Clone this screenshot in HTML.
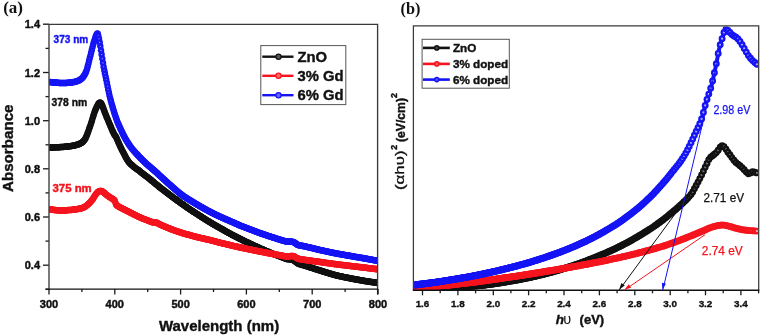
<!DOCTYPE html>
<html><head><meta charset="utf-8"><style>
html,body{margin:0;padding:0;background:#fff;width:761px;height:336px;overflow:hidden;}
svg{display:block;will-change:transform;}
</style></head><body>
<svg width="761" height="336" viewBox="0 0 761 336">
<style>
text{font-family:"Liberation Sans",sans-serif;}
.tk{font-size:11px;font-weight:bold;fill:#111;stroke:#111;stroke-width:0.45px;}
.tkb{font-size:9.9px;font-weight:bold;fill:#111;stroke:#111;stroke-width:0.35px;}
.serif{font-family:"Liberation Serif",serif;font-weight:bold;}
</style>
<defs>
<marker id="mAk" markerUnits="userSpaceOnUse" markerWidth="10" markerHeight="10" refX="5" refY="5" overflow="visible"><circle cx="5" cy="5" r="1.95" fill="#707070" stroke="#111111" stroke-width="2.6"/></marker>
<marker id="mAr" markerUnits="userSpaceOnUse" markerWidth="10" markerHeight="10" refX="5" refY="5" overflow="visible"><circle cx="5" cy="5" r="1.95" fill="#ffb0b0" stroke="#f5141e" stroke-width="2.6"/></marker>
<marker id="mAb" markerUnits="userSpaceOnUse" markerWidth="10" markerHeight="10" refX="5" refY="5" overflow="visible"><circle cx="5" cy="5" r="1.95" fill="#a8a8ff" stroke="#1414f5" stroke-width="2.6"/></marker>
<marker id="mBk" markerUnits="userSpaceOnUse" markerWidth="10" markerHeight="10" refX="5" refY="5" overflow="visible"><circle cx="5" cy="5" r="2.3" fill="#707070" stroke="#111111" stroke-width="2.3"/></marker>
<marker id="mBr" markerUnits="userSpaceOnUse" markerWidth="10" markerHeight="10" refX="5" refY="5" overflow="visible"><circle cx="5" cy="5" r="2.3" fill="#ffb0b0" stroke="#f5141e" stroke-width="2.3"/></marker>
<marker id="mBb" markerUnits="userSpaceOnUse" markerWidth="10" markerHeight="10" refX="5" refY="5" overflow="visible"><circle cx="5" cy="5" r="2.3" fill="#a8a8ff" stroke="#1414f5" stroke-width="2.3"/></marker>
<clipPath id="ca"><rect x="49.5" y="25" width="327.5" height="263.5"/></clipPath>
<clipPath id="cb"><rect x="414.5" y="26.5" width="343.6" height="263"/></clipPath>
</defs>
<rect width="761" height="336" fill="#fff"/>
<!-- Panel A -->
<text x="3.2" y="13.4" class="serif" font-size="17" fill="#111">(a)</text>
<line x1="43.0" y1="24.3" x2="49" y2="24.3" stroke="#1a1a1a" stroke-width="1.3"/>
<text x="40" y="28.3" class="tk" text-anchor="end">1.4</text>
<line x1="45.5" y1="48.4" x2="49" y2="48.4" stroke="#1a1a1a" stroke-width="1.3"/>
<line x1="43.0" y1="72.5" x2="49" y2="72.5" stroke="#1a1a1a" stroke-width="1.3"/>
<text x="40" y="76.5" class="tk" text-anchor="end">1.2</text>
<line x1="45.5" y1="96.6" x2="49" y2="96.6" stroke="#1a1a1a" stroke-width="1.3"/>
<line x1="43.0" y1="120.7" x2="49" y2="120.7" stroke="#1a1a1a" stroke-width="1.3"/>
<text x="40" y="124.7" class="tk" text-anchor="end">1.0</text>
<line x1="45.5" y1="144.8" x2="49" y2="144.8" stroke="#1a1a1a" stroke-width="1.3"/>
<line x1="43.0" y1="168.8" x2="49" y2="168.8" stroke="#1a1a1a" stroke-width="1.3"/>
<text x="40" y="172.8" class="tk" text-anchor="end">0.8</text>
<line x1="45.5" y1="192.9" x2="49" y2="192.9" stroke="#1a1a1a" stroke-width="1.3"/>
<line x1="43.0" y1="217.0" x2="49" y2="217.0" stroke="#1a1a1a" stroke-width="1.3"/>
<text x="40" y="221.0" class="tk" text-anchor="end">0.6</text>
<line x1="45.5" y1="241.1" x2="49" y2="241.1" stroke="#1a1a1a" stroke-width="1.3"/>
<line x1="43.0" y1="265.2" x2="49" y2="265.2" stroke="#1a1a1a" stroke-width="1.3"/>
<text x="40" y="269.2" class="tk" text-anchor="end">0.4</text>
<line x1="45.5" y1="289.3" x2="49" y2="289.3" stroke="#1a1a1a" stroke-width="1.3"/>
<line x1="49.0" y1="289" x2="49.0" y2="294.5" stroke="#1a1a1a" stroke-width="1.3"/>
<text x="49.0" y="307.5" class="tk" text-anchor="middle">300</text>
<line x1="81.9" y1="289" x2="81.9" y2="292.0" stroke="#1a1a1a" stroke-width="1.3"/>
<line x1="114.8" y1="289" x2="114.8" y2="294.5" stroke="#1a1a1a" stroke-width="1.3"/>
<text x="114.8" y="307.5" class="tk" text-anchor="middle">400</text>
<line x1="147.7" y1="289" x2="147.7" y2="292.0" stroke="#1a1a1a" stroke-width="1.3"/>
<line x1="180.6" y1="289" x2="180.6" y2="294.5" stroke="#1a1a1a" stroke-width="1.3"/>
<text x="180.6" y="307.5" class="tk" text-anchor="middle">500</text>
<line x1="213.5" y1="289" x2="213.5" y2="292.0" stroke="#1a1a1a" stroke-width="1.3"/>
<line x1="246.4" y1="289" x2="246.4" y2="294.5" stroke="#1a1a1a" stroke-width="1.3"/>
<text x="246.4" y="307.5" class="tk" text-anchor="middle">600</text>
<line x1="279.3" y1="289" x2="279.3" y2="292.0" stroke="#1a1a1a" stroke-width="1.3"/>
<line x1="312.2" y1="289" x2="312.2" y2="294.5" stroke="#1a1a1a" stroke-width="1.3"/>
<text x="312.2" y="307.5" class="tk" text-anchor="middle">700</text>
<line x1="345.1" y1="289" x2="345.1" y2="292.0" stroke="#1a1a1a" stroke-width="1.3"/>
<line x1="378.0" y1="289" x2="378.0" y2="294.5" stroke="#1a1a1a" stroke-width="1.3"/>
<text x="378.0" y="307.5" class="tk" text-anchor="middle">800</text>
<g clip-path="url(#ca)">
<path d="M49.0,147.5 C51.2,147.4 57.8,147.3 62.0,147.0 C66.2,146.7 70.8,146.2 74.0,145.5 C77.2,144.8 79.2,144.1 81.0,143.0 C82.8,141.9 83.8,140.8 85.0,139.0 C86.2,137.2 86.9,134.9 88.0,132.0 C89.1,129.1 90.3,125.3 91.5,121.8 C92.7,118.3 93.8,113.9 94.9,111.0 C96.0,108.1 97.2,105.9 98.0,104.5 C98.8,103.1 99.1,102.6 99.7,102.5 C100.3,102.4 101.0,103.2 101.5,104.0 C102.0,104.8 102.4,106.0 103.0,107.5 C103.6,109.0 104.1,110.7 105.0,113.0 C105.9,115.3 107.3,118.7 108.5,121.5 C109.7,124.3 111.1,127.8 112.1,130.0 C113.1,132.2 113.8,133.8 114.5,135.0 C115.2,136.2 115.5,136.1 116.0,137.0 C116.5,137.9 116.7,138.8 117.5,140.5 C118.3,142.2 119.6,145.2 120.7,147.5 C121.8,149.8 123.0,152.0 124.0,154.0 C125.0,156.0 125.8,157.8 127.0,159.5 C128.2,161.2 128.8,162.5 131.0,164.5 C133.2,166.5 136.8,169.0 140.0,171.5 C143.2,174.0 146.7,176.6 150.0,179.3 C153.3,182.0 156.7,184.8 160.0,187.5 C163.3,190.2 166.7,192.7 170.0,195.2 C173.3,197.7 176.7,200.1 180.0,202.5 C183.3,204.9 186.7,207.2 190.0,209.5 C193.3,211.8 196.7,213.9 200.0,216.0 C203.3,218.1 206.7,220.3 210.0,222.3 C213.3,224.3 216.7,226.2 220.0,228.1 C223.3,230.0 226.7,231.9 230.0,233.7 C233.3,235.5 236.7,237.2 240.0,238.9 C243.3,240.6 246.7,242.1 250.0,243.7 C253.3,245.3 256.7,246.8 260.0,248.3 C263.3,249.8 266.7,251.2 270.0,252.6 C273.3,254.0 277.2,255.4 280.0,256.5 C282.8,257.6 285.2,258.6 287.0,259.1 C288.8,259.6 289.8,259.1 291.0,259.4 C292.2,259.6 292.8,259.9 294.0,260.6 C295.2,261.3 296.2,262.6 298.0,263.5 C299.8,264.4 301.3,264.5 305.0,265.7 C308.7,266.9 315.0,268.9 320.0,270.5 C325.0,272.1 330.0,273.7 335.0,275.0 C340.0,276.3 345.0,277.3 350.0,278.3 C355.0,279.3 360.3,280.2 365.0,281.0 C369.7,281.8 375.8,282.7 378.0,283.0" fill="none" stroke="#111111" stroke-width="4.0" stroke-linejoin="round" stroke-linecap="round"/>
<polyline points="49.0,147.5 49.7,147.5 50.3,147.5 51.0,147.4 51.6,147.4 52.3,147.4 52.9,147.4 53.6,147.4 54.3,147.4 54.9,147.3 55.6,147.3 56.2,147.3 56.9,147.3 57.6,147.2 58.2,147.2 58.9,147.2 59.5,147.2 60.2,147.1 60.8,147.1 61.5,147.0 62.2,147.0 62.8,146.9 63.5,146.9 64.1,146.8 64.8,146.8 65.5,146.7 66.1,146.6 66.8,146.6 67.4,146.5 68.1,146.4 68.7,146.3 69.4,146.2 70.1,146.2 70.7,146.1 71.4,146.0 72.0,145.9 72.7,145.8 73.3,145.6 74.0,145.5 74.7,145.4 75.3,145.2 76.0,145.0 76.6,144.8 77.3,144.6 78.0,144.4 78.6,144.2 79.3,143.9 79.9,143.6 80.6,143.2 81.2,142.9 81.9,142.4 82.6,141.9 83.2,141.3 83.9,140.6 84.5,139.7 85.2,138.7 85.8,137.5 86.5,135.9 87.2,134.2 87.8,132.5 88.5,130.7 89.1,128.8 89.8,126.9 90.5,125.0 91.1,123.0 91.8,121.0 92.4,118.8 93.1,116.6 93.7,114.5 94.4,112.4 95.1,110.6 95.7,109.0 96.4,107.6 97.0,106.3 97.7,105.0 98.3,103.9 99.0,102.9 99.7,102.5 100.3,102.7 101.0,103.3 101.6,104.2 102.3,105.7 103.0,107.4 103.6,109.2 104.3,111.1 104.9,112.8 105.6,114.5 106.2,116.1 106.9,117.7 107.6,119.3 108.2,120.8 108.9,122.4 109.5,124.0 110.2,125.6 110.9,127.1 111.5,128.7 112.2,130.2 112.8,131.6 113.5,133.0 114.1,134.3 114.8,135.5 115.5,136.3 116.1,137.2 116.8,138.8 117.4,140.3 118.1,141.8 118.7,143.3 119.4,144.7 120.1,146.2 120.7,147.5 121.4,148.9 122.0,150.2 122.7,151.5 123.4,152.8 124.0,154.0 124.7,155.3 125.3,156.6 126.0,157.8 126.6,158.9 127.3,160.0 128.0,161.0 128.6,161.9 129.3,162.7 129.9,163.5 130.6,164.1 131.2,164.7 131.9,165.3 132.6,165.8 133.2,166.4 133.9,166.9 134.5,167.4 135.2,167.9 135.9,168.4 136.5,168.9 137.2,169.4 137.8,169.8 138.5,170.3 139.1,170.8 139.8,171.3 140.5,171.9 141.1,172.4 141.8,172.9 142.4,173.4 143.1,173.9 143.8,174.4 144.4,174.9 145.1,175.4 145.7,175.9 146.4,176.4 147.0,177.0 147.7,177.5 148.4,178.0 149.0,178.5 149.7,179.0 150.3,179.6 151.0,180.1 151.6,180.6 152.3,181.2 153.0,181.7 153.6,182.3 154.3,182.8 154.9,183.4 155.6,183.9 156.3,184.4 156.9,185.0 157.6,185.5 158.2,186.1 158.9,186.6 159.5,187.1 160.2,187.7 160.9,188.2 161.5,188.7 162.2,189.2 162.8,189.7 163.5,190.2 164.2,190.8 164.8,191.3 165.5,191.8 166.1,192.3 166.8,192.8 167.4,193.3 168.1,193.8 168.8,194.3 169.4,194.8 170.1,195.3 170.7,195.7 171.4,196.2 172.0,196.7 172.7,197.2 173.4,197.7 174.0,198.2 174.7,198.7 175.3,199.1 176.0,199.6 176.7,200.1 177.3,200.6 178.0,201.0 178.6,201.5 179.3,202.0 179.9,202.5 180.6,202.9 181.3,203.4 181.9,203.9 182.6,204.3 183.2,204.8 183.9,205.3 184.5,205.7 185.2,206.2 185.9,206.7 186.5,207.1 187.2,207.6 187.8,208.0 188.5,208.5 189.2,208.9 189.8,209.4 190.5,209.8 191.1,210.3 191.8,210.7 192.4,211.1 193.1,211.6 193.8,212.0 194.4,212.4 195.1,212.8 195.7,213.3 196.4,213.7 197.1,214.1 197.7,214.5 198.4,215.0 199.0,215.4 199.7,215.8 200.3,216.2 201.0,216.6 201.7,217.1 202.3,217.5 203.0,217.9 203.6,218.3 204.3,218.7 204.9,219.2 205.6,219.6 206.3,220.0 206.9,220.4 207.6,220.8 208.2,221.2 208.9,221.6 209.6,222.0 210.2,222.4 210.9,222.8 211.5,223.2 212.2,223.6 212.8,224.0 213.5,224.4 214.2,224.8 214.8,225.1 215.5,225.5 216.1,225.9 216.8,226.3 217.4,226.6 218.1,227.0 218.8,227.4 219.4,227.8 220.1,228.1 220.7,228.5 221.4,228.9 222.1,229.3 222.7,229.6 223.4,230.0 224.0,230.4 224.7,230.8 225.3,231.1 226.0,231.5 226.7,231.9 227.3,232.2 228.0,232.6 228.6,233.0 229.3,233.3 230.0,233.7 230.6,234.0 231.3,234.4 231.9,234.7 232.6,235.1 233.2,235.4 233.9,235.8 234.6,236.1 235.2,236.5 235.9,236.8 236.5,237.1 237.2,237.5 237.8,237.8 238.5,238.1 239.2,238.5 239.8,238.8 240.5,239.1 241.1,239.5 241.8,239.8 242.5,240.1 243.1,240.4 243.8,240.7 244.4,241.1 245.1,241.4 245.7,241.7 246.4,242.0 247.1,242.3 247.7,242.6 248.4,242.9 249.0,243.2 249.7,243.6 250.3,243.9 251.0,244.2 251.7,244.5 252.3,244.8 253.0,245.1 253.6,245.4 254.3,245.7 255.0,246.0 255.6,246.3 256.3,246.6 256.9,246.9 257.6,247.2 258.2,247.5 258.9,247.8 259.6,248.1 260.2,248.4 260.9,248.7 261.5,249.0 262.2,249.3 262.9,249.6 263.5,249.8 264.2,250.1 264.8,250.4 265.5,250.7 266.1,251.0 266.8,251.3 267.5,251.5 268.1,251.8 268.8,252.1 269.4,252.4 270.1,252.6 270.7,252.9 271.4,253.2 272.1,253.4 272.7,253.7 273.4,254.0 274.0,254.2 274.7,254.5 275.4,254.7 276.0,255.0 276.7,255.2 277.3,255.5 278.0,255.7 278.6,256.0 279.3,256.2 280.0,256.5 280.6,256.7 281.3,257.0 281.9,257.3 282.6,257.5 283.2,257.8 283.9,258.0 284.6,258.3 285.2,258.5 285.9,258.8 286.5,259.0 287.2,259.1 287.9,259.3 288.5,259.3 289.2,259.3 289.8,259.3 290.5,259.3 291.1,259.4 291.8,259.6 292.5,259.8 293.1,260.1 293.8,260.5 294.4,260.9 295.1,261.4 295.8,262.0 296.4,262.5 297.1,263.0 297.7,263.4 298.4,263.7 299.0,263.9 299.7,264.2 300.4,264.4 301.0,264.5 301.7,264.7 302.3,264.9 303.0,265.1 303.6,265.3 304.3,265.5 305.0,265.7 305.6,265.9 306.3,266.1 306.9,266.3 307.6,266.5 308.3,266.7 308.9,267.0 309.6,267.2 310.2,267.4 310.9,267.6 311.5,267.8 312.2,268.0 312.9,268.2 313.5,268.4 314.2,268.7 314.8,268.9 315.5,269.1 316.1,269.3 316.8,269.5 317.5,269.7 318.1,269.9 318.8,270.1 319.4,270.3 320.1,270.5 320.8,270.7 321.4,270.9 322.1,271.1 322.7,271.4 323.4,271.6 324.0,271.8 324.7,272.0 325.4,272.2 326.0,272.4 326.7,272.6 327.3,272.8 328.0,273.0 328.7,273.2 329.3,273.4 330.0,273.6 330.6,273.8 331.3,274.0 331.9,274.2 332.6,274.4 333.3,274.5 333.9,274.7 334.6,274.9 335.2,275.1 335.9,275.2 336.5,275.4 337.2,275.6 337.9,275.7 338.5,275.9 339.2,276.0 339.8,276.2 340.5,276.3 341.2,276.5 341.8,276.6 342.5,276.8 343.1,276.9 343.8,277.0 344.4,277.2 345.1,277.3 345.8,277.4 346.4,277.6 347.1,277.7 347.7,277.8 348.4,278.0 349.0,278.1 349.7,278.2 350.4,278.4 351.0,278.5 351.7,278.6 352.3,278.8 353.0,278.9 353.7,279.0 354.3,279.1 355.0,279.3 355.6,279.4 356.3,279.5 356.9,279.6 357.6,279.7 358.3,279.8 358.9,280.0 359.6,280.1 360.2,280.2 360.9,280.3 361.6,280.4 362.2,280.5 362.9,280.6 363.5,280.8 364.2,280.9 364.8,281.0 365.5,281.1 366.2,281.2 366.8,281.3 367.5,281.4 368.1,281.5 368.8,281.6 369.4,281.7 370.1,281.8 370.8,281.9 371.4,282.0 372.1,282.1 372.7,282.2 373.4,282.3 374.1,282.4 374.7,282.5 375.4,282.6 376.0,282.7 376.7,282.8 377.3,282.9 378.0,283.0" fill="none" stroke="none" marker-start="url(#mAk)" marker-mid="url(#mAk)" marker-end="url(#mAk)"/>
<path d="M49.0,209.3 C50.8,209.5 56.2,210.3 60.0,210.4 C63.8,210.5 68.5,210.2 72.0,209.8 C75.5,209.4 79.1,208.7 81.3,208.2 C83.5,207.7 83.7,207.4 85.0,206.6 C86.3,205.8 87.8,204.5 89.0,203.3 C90.2,202.1 91.4,200.8 92.5,199.3 C93.6,197.9 94.6,195.8 95.5,194.6 C96.4,193.3 97.2,192.4 98.0,191.8 C98.8,191.2 99.5,191.0 100.3,190.9 C101.0,190.8 101.4,190.8 102.5,191.5 C103.6,192.2 105.5,194.2 106.9,195.3 C108.3,196.4 109.7,197.1 111.0,198.0 C112.3,198.9 113.8,199.7 114.5,200.5 C115.2,201.3 115.1,202.2 115.5,203.0 C115.9,203.8 115.5,204.5 117.0,205.6 C118.5,206.7 121.0,207.8 124.8,209.8 C128.6,211.8 136.1,215.6 140.0,217.4 C143.9,219.2 145.9,219.8 148.0,220.6 C150.1,221.4 151.1,222.0 152.5,222.3 C153.9,222.7 155.2,222.3 156.5,222.7 C157.8,223.1 157.8,223.5 160.0,224.5 C162.2,225.5 166.7,227.5 170.0,228.8 C173.3,230.1 176.7,231.2 180.0,232.3 C183.3,233.4 186.7,234.3 190.0,235.2 C193.3,236.1 196.7,237.0 200.0,237.8 C203.3,238.6 206.7,239.3 210.0,240.1 C213.3,240.9 216.7,241.9 220.0,242.7 C223.3,243.5 226.7,244.3 230.0,245.1 C233.3,245.9 236.7,246.7 240.0,247.4 C243.3,248.1 246.7,248.8 250.0,249.5 C253.3,250.2 256.7,250.8 260.0,251.5 C263.3,252.2 266.7,252.9 270.0,253.5 C273.3,254.1 277.2,254.8 280.0,255.3 C282.8,255.8 285.2,256.5 287.0,256.6 C288.8,256.7 289.8,256.0 291.0,256.0 C292.2,256.0 292.8,255.9 294.0,256.4 C295.2,256.8 296.2,258.1 298.0,258.7 C299.8,259.3 301.3,259.3 305.0,259.9 C308.7,260.4 315.0,261.3 320.0,262.0 C325.0,262.7 330.0,263.5 335.0,264.1 C340.0,264.8 345.0,265.3 350.0,265.9 C355.0,266.5 360.3,267.1 365.0,267.7 C369.7,268.3 375.8,269.0 378.0,269.3" fill="none" stroke="#f5141e" stroke-width="4.0" stroke-linejoin="round" stroke-linecap="round"/>
<polyline points="49.0,209.3 49.7,209.4 50.3,209.5 51.0,209.5 51.6,209.6 52.3,209.7 52.9,209.8 53.6,209.9 54.3,209.9 54.9,210.0 55.6,210.1 56.2,210.2 56.9,210.2 57.6,210.3 58.2,210.3 58.9,210.4 59.5,210.4 60.2,210.4 60.8,210.4 61.5,210.4 62.2,210.4 62.8,210.4 63.5,210.4 64.1,210.4 64.8,210.3 65.5,210.3 66.1,210.3 66.8,210.2 67.4,210.2 68.1,210.1 68.7,210.1 69.4,210.0 70.1,210.0 70.7,209.9 71.4,209.9 72.0,209.8 72.7,209.7 73.3,209.6 74.0,209.6 74.7,209.5 75.3,209.4 76.0,209.3 76.6,209.2 77.3,209.0 78.0,208.9 78.6,208.8 79.3,208.7 79.9,208.5 80.6,208.4 81.2,208.2 81.9,208.0 82.6,207.9 83.2,207.6 83.9,207.3 84.5,206.9 85.2,206.5 85.8,206.0 86.5,205.5 87.2,205.0 87.8,204.4 88.5,203.8 89.1,203.2 89.8,202.5 90.5,201.8 91.1,201.0 91.8,200.2 92.4,199.4 93.1,198.5 93.7,197.4 94.4,196.3 95.1,195.2 95.7,194.3 96.4,193.5 97.0,192.7 97.7,192.1 98.3,191.6 99.0,191.2 99.7,191.0 100.3,190.9 101.0,190.9 101.6,191.0 102.3,191.4 103.0,191.8 103.6,192.4 104.3,193.0 104.9,193.6 105.6,194.2 106.2,194.8 106.9,195.3 107.6,195.8 108.2,196.2 108.9,196.7 109.5,197.1 110.2,197.5 110.9,197.9 111.5,198.3 112.2,198.8 112.8,199.2 113.5,199.6 114.1,200.1 114.8,200.9 115.5,202.9 116.1,204.8 116.8,205.4 117.4,205.9 118.1,206.3 118.7,206.7 119.4,207.1 120.1,207.4 120.7,207.7 121.4,208.1 122.0,208.4 122.7,208.7 123.4,209.1 124.0,209.4 124.7,209.7 125.3,210.1 126.0,210.4 126.6,210.7 127.3,211.1 128.0,211.4 128.6,211.8 129.3,212.1 129.9,212.4 130.6,212.8 131.2,213.1 131.9,213.4 132.6,213.8 133.2,214.1 133.9,214.4 134.5,214.7 135.2,215.1 135.9,215.4 136.5,215.7 137.2,216.0 137.8,216.4 138.5,216.7 139.1,217.0 139.8,217.3 140.5,217.6 141.1,217.9 141.8,218.2 142.4,218.5 143.1,218.8 143.8,219.0 144.4,219.3 145.1,219.5 145.7,219.8 146.4,220.0 147.0,220.2 147.7,220.5 148.4,220.7 149.0,221.0 149.7,221.3 150.3,221.6 151.0,221.8 151.6,222.1 152.3,222.3 153.0,222.4 153.6,222.5 154.3,222.5 154.9,222.5 155.6,222.5 156.3,222.6 156.9,222.8 157.6,223.2 158.2,223.6 158.9,224.0 159.5,224.3 160.2,224.6 160.9,224.9 161.5,225.2 162.2,225.5 162.8,225.8 163.5,226.1 164.2,226.3 164.8,226.6 165.5,226.9 166.1,227.2 166.8,227.5 167.4,227.8 168.1,228.0 168.8,228.3 169.4,228.6 170.1,228.8 170.7,229.1 171.4,229.3 172.0,229.6 172.7,229.8 173.4,230.1 174.0,230.3 174.7,230.5 175.3,230.8 176.0,231.0 176.7,231.2 177.3,231.4 178.0,231.6 178.6,231.9 179.3,232.1 179.9,232.3 180.6,232.5 181.3,232.7 181.9,232.9 182.6,233.1 183.2,233.3 183.9,233.5 184.5,233.7 185.2,233.9 185.9,234.1 186.5,234.2 187.2,234.4 187.8,234.6 188.5,234.8 189.2,235.0 189.8,235.1 190.5,235.3 191.1,235.5 191.8,235.7 192.4,235.9 193.1,236.0 193.8,236.2 194.4,236.4 195.1,236.6 195.7,236.7 196.4,236.9 197.1,237.1 197.7,237.2 198.4,237.4 199.0,237.6 199.7,237.7 200.3,237.9 201.0,238.0 201.7,238.2 202.3,238.3 203.0,238.5 203.6,238.6 204.3,238.8 204.9,238.9 205.6,239.1 206.3,239.2 206.9,239.4 207.6,239.5 208.2,239.7 208.9,239.8 209.6,240.0 210.2,240.2 210.9,240.3 211.5,240.5 212.2,240.7 212.8,240.8 213.5,241.0 214.2,241.2 214.8,241.3 215.5,241.5 216.1,241.7 216.8,241.9 217.4,242.0 218.1,242.2 218.8,242.4 219.4,242.6 220.1,242.7 220.7,242.9 221.4,243.0 222.1,243.2 222.7,243.4 223.4,243.5 224.0,243.7 224.7,243.8 225.3,244.0 226.0,244.2 226.7,244.3 227.3,244.5 228.0,244.6 228.6,244.8 229.3,244.9 230.0,245.1 230.6,245.2 231.3,245.4 231.9,245.6 232.6,245.7 233.2,245.9 233.9,246.0 234.6,246.2 235.2,246.3 235.9,246.5 236.5,246.6 237.2,246.8 237.8,246.9 238.5,247.1 239.2,247.2 239.8,247.4 240.5,247.5 241.1,247.6 241.8,247.8 242.5,247.9 243.1,248.1 243.8,248.2 244.4,248.3 245.1,248.5 245.7,248.6 246.4,248.8 247.1,248.9 247.7,249.0 248.4,249.2 249.0,249.3 249.7,249.4 250.3,249.6 251.0,249.7 251.7,249.8 252.3,250.0 253.0,250.1 253.6,250.2 254.3,250.4 255.0,250.5 255.6,250.6 256.3,250.8 256.9,250.9 257.6,251.0 258.2,251.2 258.9,251.3 259.6,251.4 260.2,251.5 260.9,251.7 261.5,251.8 262.2,251.9 262.9,252.1 263.5,252.2 264.2,252.3 264.8,252.5 265.5,252.6 266.1,252.7 266.8,252.9 267.5,253.0 268.1,253.1 268.8,253.3 269.4,253.4 270.1,253.5 270.7,253.6 271.4,253.8 272.1,253.9 272.7,254.0 273.4,254.1 274.0,254.2 274.7,254.4 275.4,254.5 276.0,254.6 276.7,254.7 277.3,254.8 278.0,254.9 278.6,255.1 279.3,255.2 280.0,255.3 280.6,255.4 281.3,255.5 281.9,255.7 282.6,255.8 283.2,256.0 283.9,256.1 284.6,256.2 285.2,256.4 285.9,256.5 286.5,256.6 287.2,256.6 287.9,256.6 288.5,256.5 289.2,256.4 289.8,256.2 290.5,256.1 291.1,256.0 291.8,256.0 292.5,256.0 293.1,256.1 293.8,256.3 294.4,256.6 295.1,257.0 295.8,257.5 296.4,257.9 297.1,258.3 297.7,258.6 298.4,258.8 299.0,259.0 299.7,259.1 300.4,259.2 301.0,259.3 301.7,259.4 302.3,259.5 303.0,259.6 303.6,259.7 304.3,259.8 305.0,259.9 305.6,260.0 306.3,260.1 306.9,260.2 307.6,260.3 308.3,260.4 308.9,260.5 309.6,260.6 310.2,260.6 310.9,260.7 311.5,260.8 312.2,260.9 312.9,261.0 313.5,261.1 314.2,261.2 314.8,261.3 315.5,261.4 316.1,261.5 316.8,261.6 317.5,261.6 318.1,261.7 318.8,261.8 319.4,261.9 320.1,262.0 320.8,262.1 321.4,262.2 322.1,262.3 322.7,262.4 323.4,262.5 324.0,262.6 324.7,262.7 325.4,262.8 326.0,262.9 326.7,263.0 327.3,263.0 328.0,263.1 328.7,263.2 329.3,263.3 330.0,263.4 330.6,263.5 331.3,263.6 331.9,263.7 332.6,263.8 333.3,263.9 333.9,264.0 334.6,264.0 335.2,264.1 335.9,264.2 336.5,264.3 337.2,264.4 337.9,264.5 338.5,264.5 339.2,264.6 339.8,264.7 340.5,264.8 341.2,264.9 341.8,264.9 342.5,265.0 343.1,265.1 343.8,265.2 344.4,265.2 345.1,265.3 345.8,265.4 346.4,265.5 347.1,265.6 347.7,265.6 348.4,265.7 349.0,265.8 349.7,265.9 350.4,265.9 351.0,266.0 351.7,266.1 352.3,266.2 353.0,266.3 353.7,266.3 354.3,266.4 355.0,266.5 355.6,266.6 356.3,266.7 356.9,266.7 357.6,266.8 358.3,266.9 358.9,267.0 359.6,267.0 360.2,267.1 360.9,267.2 361.6,267.3 362.2,267.4 362.9,267.4 363.5,267.5 364.2,267.6 364.8,267.7 365.5,267.8 366.2,267.8 366.8,267.9 367.5,268.0 368.1,268.1 368.8,268.2 369.4,268.2 370.1,268.3 370.8,268.4 371.4,268.5 372.1,268.6 372.7,268.6 373.4,268.7 374.1,268.8 374.7,268.9 375.4,269.0 376.0,269.1 376.7,269.1 377.3,269.2 378.0,269.3" fill="none" stroke="none" marker-start="url(#mAr)" marker-mid="url(#mAr)" marker-end="url(#mAr)"/>
<path d="M49.0,82.0 C51.2,82.2 57.8,83.0 62.0,83.0 C66.2,83.0 70.8,82.7 74.0,82.0 C77.2,81.3 79.1,80.5 81.0,79.0 C82.9,77.5 84.4,75.0 85.5,73.0 C86.6,71.0 86.8,69.7 87.5,67.0 C88.2,64.3 89.1,60.7 90.0,57.0 C90.9,53.3 92.1,48.3 93.0,45.0 C93.9,41.7 94.9,38.8 95.5,37.0 C96.1,35.2 96.3,34.8 96.6,34.2 C96.9,33.6 97.1,33.4 97.3,33.4 C97.5,33.4 97.7,33.4 98.0,34.5 C98.3,35.6 98.8,37.8 99.2,40.0 C99.6,42.2 100.0,44.7 100.6,48.0 C101.1,51.3 101.9,56.5 102.5,60.0 C103.1,63.5 103.4,65.9 104.0,69.0 C104.6,72.1 105.0,73.7 106.0,78.6 C107.0,83.5 108.5,91.9 110.2,98.5 C111.9,105.1 114.2,112.8 116.0,118.0 C117.8,123.2 119.4,126.5 121.0,130.0 C122.6,133.5 123.8,136.1 125.5,139.0 C127.2,141.9 128.9,144.8 131.0,147.5 C133.1,150.2 135.5,152.8 138.0,155.5 C140.5,158.2 143.2,160.9 146.0,163.5 C148.8,166.1 151.8,168.5 155.0,171.3 C158.2,174.1 160.8,176.8 165.0,180.5 C169.2,184.2 175.8,190.3 180.0,193.6 C184.2,196.9 186.7,198.2 190.0,200.3 C193.3,202.4 196.7,204.4 200.0,206.3 C203.3,208.2 206.7,210.1 210.0,211.8 C213.3,213.5 216.7,215.1 220.0,216.7 C223.3,218.2 226.7,219.6 230.0,221.1 C233.3,222.6 236.7,224.1 240.0,225.5 C243.3,226.9 246.7,228.1 250.0,229.4 C253.3,230.7 256.7,231.9 260.0,233.1 C263.3,234.3 266.7,235.4 270.0,236.5 C273.3,237.6 277.2,238.8 280.0,239.7 C282.8,240.5 285.2,241.3 287.0,241.6 C288.8,241.9 289.8,241.5 291.0,241.6 C292.2,241.7 292.8,241.7 294.0,242.3 C295.2,242.9 296.2,244.3 298.0,245.0 C299.8,245.7 301.3,245.6 305.0,246.4 C308.7,247.2 315.0,248.9 320.0,250.0 C325.0,251.1 330.0,252.2 335.0,253.2 C340.0,254.2 345.0,255.0 350.0,255.9 C355.0,256.8 360.3,257.7 365.0,258.5 C369.7,259.3 375.8,260.5 378.0,260.9" fill="none" stroke="#1414f5" stroke-width="4.0" stroke-linejoin="round" stroke-linecap="round"/>
<polyline points="49.0,82.0 49.7,82.1 50.3,82.1 51.0,82.2 51.6,82.3 52.3,82.3 52.9,82.4 53.6,82.5 54.3,82.5 54.9,82.6 55.6,82.6 56.2,82.7 56.9,82.7 57.6,82.8 58.2,82.8 58.9,82.9 59.5,82.9 60.2,83.0 60.8,83.0 61.5,83.0 62.2,83.0 62.8,83.0 63.5,83.0 64.1,83.0 64.8,83.0 65.5,82.9 66.1,82.9 66.8,82.9 67.4,82.8 68.1,82.8 68.7,82.7 69.4,82.7 70.1,82.6 70.7,82.5 71.4,82.4 72.0,82.3 72.7,82.2 73.3,82.1 74.0,82.0 74.7,81.9 75.3,81.7 76.0,81.5 76.6,81.3 77.3,81.1 78.0,80.8 78.6,80.5 79.3,80.2 79.9,79.8 80.6,79.3 81.2,78.8 81.9,78.2 82.6,77.5 83.2,76.7 83.9,75.7 84.5,74.7 85.2,73.6 85.8,72.3 86.5,70.6 87.2,68.2 87.8,65.8 88.5,63.2 89.1,60.5 89.8,57.8 90.5,55.2 91.1,52.5 91.8,49.8 92.4,47.2 93.1,44.7 93.7,42.4 94.4,40.3 95.1,38.3 95.7,36.4 96.4,34.7 97.0,33.5 97.7,33.7 98.3,35.9 99.0,39.0 99.7,42.5 100.3,46.3 101.0,50.4 101.6,54.6 102.3,58.7 103.0,62.9 103.6,66.9 104.3,70.4 104.9,73.6 105.6,76.7 106.2,79.8 106.9,83.1 107.6,86.4 108.2,89.7 108.9,92.8 109.5,95.8 110.2,98.5 110.9,101.0 111.5,103.4 112.2,105.7 112.8,108.0 113.5,110.2 114.1,112.3 114.8,114.4 115.5,116.4 116.1,118.3 116.8,120.2 117.4,121.9 118.1,123.5 118.7,125.0 119.4,126.5 120.1,128.0 120.7,129.4 121.4,130.8 122.0,132.3 122.7,133.6 123.4,135.0 124.0,136.3 124.7,137.5 125.3,138.7 126.0,139.8 126.6,141.0 127.3,142.0 128.0,143.1 128.6,144.1 129.3,145.1 129.9,146.0 130.6,147.0 131.2,147.8 131.9,148.7 132.6,149.5 133.2,150.2 133.9,151.0 134.5,151.8 135.2,152.5 135.9,153.2 136.5,153.9 137.2,154.6 137.8,155.3 138.5,156.0 139.1,156.7 139.8,157.4 140.5,158.1 141.1,158.8 141.8,159.4 142.4,160.1 143.1,160.7 143.8,161.4 144.4,162.0 145.1,162.6 145.7,163.2 146.4,163.9 147.0,164.4 147.7,165.0 148.4,165.6 149.0,166.2 149.7,166.7 150.3,167.3 151.0,167.8 151.6,168.4 152.3,169.0 153.0,169.5 153.6,170.1 154.3,170.7 154.9,171.2 155.6,171.8 156.3,172.4 156.9,173.0 157.6,173.6 158.2,174.3 158.9,174.9 159.5,175.5 160.2,176.1 160.9,176.7 161.5,177.3 162.2,177.9 162.8,178.5 163.5,179.1 164.2,179.7 164.8,180.3 165.5,180.9 166.1,181.5 166.8,182.1 167.4,182.7 168.1,183.3 168.8,183.9 169.4,184.5 170.1,185.0 170.7,185.6 171.4,186.2 172.0,186.8 172.7,187.4 173.4,188.0 174.0,188.5 174.7,189.1 175.3,189.7 176.0,190.3 176.7,190.8 177.3,191.4 178.0,191.9 178.6,192.5 179.3,193.0 179.9,193.6 180.6,194.1 181.3,194.6 181.9,195.1 182.6,195.5 183.2,196.0 183.9,196.5 184.5,196.9 185.2,197.3 185.9,197.7 186.5,198.2 187.2,198.6 187.8,199.0 188.5,199.4 189.2,199.8 189.8,200.2 190.5,200.6 191.1,201.0 191.8,201.4 192.4,201.8 193.1,202.2 193.8,202.6 194.4,203.0 195.1,203.4 195.7,203.8 196.4,204.2 197.1,204.6 197.7,205.0 198.4,205.4 199.0,205.7 199.7,206.1 200.3,206.5 201.0,206.9 201.7,207.2 202.3,207.6 203.0,208.0 203.6,208.4 204.3,208.7 204.9,209.1 205.6,209.5 206.3,209.8 206.9,210.2 207.6,210.5 208.2,210.9 208.9,211.2 209.6,211.6 210.2,211.9 210.9,212.2 211.5,212.6 212.2,212.9 212.8,213.3 213.5,213.6 214.2,213.9 214.8,214.2 215.5,214.5 216.1,214.9 216.8,215.2 217.4,215.5 218.1,215.8 218.8,216.1 219.4,216.4 220.1,216.7 220.7,217.0 221.4,217.3 222.1,217.6 222.7,217.9 223.4,218.2 224.0,218.5 224.7,218.8 225.3,219.1 226.0,219.4 226.7,219.6 227.3,219.9 228.0,220.2 228.6,220.5 229.3,220.8 230.0,221.1 230.6,221.4 231.3,221.7 231.9,222.0 232.6,222.2 233.2,222.5 233.9,222.8 234.6,223.1 235.2,223.4 235.9,223.7 236.5,224.0 237.2,224.3 237.8,224.6 238.5,224.9 239.2,225.1 239.8,225.4 240.5,225.7 241.1,226.0 241.8,226.2 242.5,226.5 243.1,226.8 243.8,227.0 244.4,227.3 245.1,227.5 245.7,227.8 246.4,228.0 247.1,228.3 247.7,228.5 248.4,228.8 249.0,229.0 249.7,229.3 250.3,229.5 251.0,229.8 251.7,230.0 252.3,230.3 253.0,230.5 253.6,230.8 254.3,231.0 255.0,231.3 255.6,231.5 256.3,231.8 256.9,232.0 257.6,232.2 258.2,232.5 258.9,232.7 259.6,232.9 260.2,233.2 260.9,233.4 261.5,233.6 262.2,233.9 262.9,234.1 263.5,234.3 264.2,234.5 264.8,234.8 265.5,235.0 266.1,235.2 266.8,235.4 267.5,235.7 268.1,235.9 268.8,236.1 269.4,236.3 270.1,236.5 270.7,236.7 271.4,237.0 272.1,237.2 272.7,237.4 273.4,237.6 274.0,237.8 274.7,238.0 275.4,238.2 276.0,238.5 276.7,238.7 277.3,238.9 278.0,239.1 278.6,239.3 279.3,239.5 280.0,239.7 280.6,239.9 281.3,240.1 281.9,240.3 282.6,240.5 283.2,240.7 283.9,240.9 284.6,241.0 285.2,241.2 285.9,241.4 286.5,241.5 287.2,241.6 287.9,241.7 288.5,241.7 289.2,241.7 289.8,241.6 290.5,241.6 291.1,241.6 291.8,241.7 292.5,241.8 293.1,241.9 293.8,242.2 294.4,242.6 295.1,243.1 295.8,243.6 296.4,244.1 297.1,244.6 297.7,244.9 298.4,245.1 299.0,245.3 299.7,245.5 300.4,245.6 301.0,245.7 301.7,245.8 302.3,245.9 303.0,246.0 303.6,246.1 304.3,246.2 305.0,246.4 305.6,246.5 306.3,246.7 306.9,246.9 307.6,247.0 308.3,247.2 308.9,247.3 309.6,247.5 310.2,247.7 310.9,247.8 311.5,248.0 312.2,248.1 312.9,248.3 313.5,248.5 314.2,248.6 314.8,248.8 315.5,248.9 316.1,249.1 316.8,249.3 317.5,249.4 318.1,249.6 318.8,249.7 319.4,249.9 320.1,250.0 320.8,250.2 321.4,250.3 322.1,250.5 322.7,250.6 323.4,250.8 324.0,250.9 324.7,251.0 325.4,251.2 326.0,251.3 326.7,251.5 327.3,251.6 328.0,251.8 328.7,251.9 329.3,252.0 330.0,252.2 330.6,252.3 331.3,252.5 331.9,252.6 332.6,252.7 333.3,252.9 333.9,253.0 334.6,253.1 335.2,253.2 335.9,253.4 336.5,253.5 337.2,253.6 337.9,253.7 338.5,253.9 339.2,254.0 339.8,254.1 340.5,254.2 341.2,254.3 341.8,254.5 342.5,254.6 343.1,254.7 343.8,254.8 344.4,254.9 345.1,255.0 345.8,255.2 346.4,255.3 347.1,255.4 347.7,255.5 348.4,255.6 349.0,255.7 349.7,255.8 350.4,256.0 351.0,256.1 351.7,256.2 352.3,256.3 353.0,256.4 353.7,256.5 354.3,256.7 355.0,256.8 355.6,256.9 356.3,257.0 356.9,257.1 357.6,257.2 358.3,257.3 358.9,257.4 359.6,257.6 360.2,257.7 360.9,257.8 361.6,257.9 362.2,258.0 362.9,258.1 363.5,258.2 364.2,258.4 364.8,258.5 365.5,258.6 366.2,258.7 366.8,258.8 367.5,258.9 368.1,259.1 368.8,259.2 369.4,259.3 370.1,259.4 370.8,259.6 371.4,259.7 372.1,259.8 372.7,259.9 373.4,260.0 374.1,260.2 374.7,260.3 375.4,260.4 376.0,260.5 376.7,260.7 377.3,260.8 378.0,260.9" fill="none" stroke="none" marker-start="url(#mAb)" marker-mid="url(#mAb)" marker-end="url(#mAb)"/>
</g>
<path d="M43,24.3 H377.6 V289.1 M49,289.1 V24.3" fill="none" stroke="#3a3a3a" stroke-width="1.35"/>
<line x1="45.5" y1="289.1" x2="378.2" y2="289.1" stroke="#111" stroke-width="1.4"/>
<line x1="377.6" y1="289" x2="377.6" y2="294.5" stroke="#1a1a1a" stroke-width="1.3"/>
<text x="53.6" y="42.8" font-size="10" font-weight="bold" fill="#1414f5" textLength="34.6" lengthAdjust="spacingAndGlyphs" stroke="#1414f5" stroke-width="0.4">373 nm</text>
<text x="51.6" y="105.8" font-size="10" font-weight="bold" fill="#111111" textLength="35.5" lengthAdjust="spacingAndGlyphs" stroke="#111111" stroke-width="0.4">378 nm</text>
<text x="52.5" y="191.8" font-size="10.2" font-weight="bold" fill="#f5141e" textLength="39.2" lengthAdjust="spacingAndGlyphs" stroke="#f5141e" stroke-width="0.4">375 nm</text>
<!-- legend A -->
<rect x="260.8" y="45.6" width="85" height="59" fill="#fff" stroke="#555" stroke-width="1"/>
<line x1="262.3" y1="56.7" x2="293.5" y2="56.7" stroke="#111111" stroke-width="2.4"/>
<circle cx="278.5" cy="56.7" r="2.6" fill="#555" stroke="#111111" stroke-width="1.2"/>
<line x1="262.3" y1="75.8" x2="293.5" y2="75.8" stroke="#f5141e" stroke-width="2.4"/>
<circle cx="278.5" cy="75.8" r="2.6" fill="#f66" stroke="#f5141e" stroke-width="1.2"/>
<line x1="262.3" y1="95.2" x2="293.5" y2="95.2" stroke="#1414f5" stroke-width="2.4"/>
<circle cx="278.5" cy="95.2" r="2.6" fill="#66f" stroke="#1414f5" stroke-width="1.2"/>
<text x="297.5" y="61.6" font-size="14.8" font-weight="bold" fill="#111" stroke="#111" stroke-width="0.4">ZnO</text>
<text x="297.5" y="80.7" font-size="14.8" font-weight="bold" fill="#111" stroke="#111" stroke-width="0.4">3% Gd</text>
<text x="297.5" y="100.1" font-size="14.8" font-weight="bold" fill="#111" stroke="#111" stroke-width="0.4">6% Gd</text>
<text x="158.9" y="331.2" font-size="15" font-weight="bold" fill="#111" stroke="#111" stroke-width="0.4">Wavelength (nm)</text>
<text transform="translate(12.8,192) rotate(-90)" font-size="15" font-weight="bold" fill="#111" textLength="87.5" lengthAdjust="spacingAndGlyphs" stroke="#111" stroke-width="0.4">Absorbance</text>

<!-- Panel B -->
<text x="400.5" y="13.6" class="serif" font-size="16.3" fill="#111">(b)</text>
<line x1="422.5" y1="290.3" x2="422.5" y2="295.3" stroke="#1a1a1a" stroke-width="1.3"/>
<text x="422.5" y="306.5" class="tkb" text-anchor="middle">1.6</text>
<line x1="440.2" y1="290.3" x2="440.2" y2="293.3" stroke="#1a1a1a" stroke-width="1.3"/>
<line x1="457.9" y1="290.3" x2="457.9" y2="295.3" stroke="#1a1a1a" stroke-width="1.3"/>
<text x="457.9" y="306.5" class="tkb" text-anchor="middle">1.8</text>
<line x1="475.6" y1="290.3" x2="475.6" y2="293.3" stroke="#1a1a1a" stroke-width="1.3"/>
<line x1="493.3" y1="290.3" x2="493.3" y2="295.3" stroke="#1a1a1a" stroke-width="1.3"/>
<text x="493.3" y="306.5" class="tkb" text-anchor="middle">2.0</text>
<line x1="510.9" y1="290.3" x2="510.9" y2="293.3" stroke="#1a1a1a" stroke-width="1.3"/>
<line x1="528.6" y1="290.3" x2="528.6" y2="295.3" stroke="#1a1a1a" stroke-width="1.3"/>
<text x="528.6" y="306.5" class="tkb" text-anchor="middle">2.2</text>
<line x1="546.3" y1="290.3" x2="546.3" y2="293.3" stroke="#1a1a1a" stroke-width="1.3"/>
<line x1="564.0" y1="290.3" x2="564.0" y2="295.3" stroke="#1a1a1a" stroke-width="1.3"/>
<text x="564.0" y="306.5" class="tkb" text-anchor="middle">2.4</text>
<line x1="581.7" y1="290.3" x2="581.7" y2="293.3" stroke="#1a1a1a" stroke-width="1.3"/>
<line x1="599.4" y1="290.3" x2="599.4" y2="295.3" stroke="#1a1a1a" stroke-width="1.3"/>
<text x="599.4" y="306.5" class="tkb" text-anchor="middle">2.6</text>
<line x1="617.1" y1="290.3" x2="617.1" y2="293.3" stroke="#1a1a1a" stroke-width="1.3"/>
<line x1="634.8" y1="290.3" x2="634.8" y2="295.3" stroke="#1a1a1a" stroke-width="1.3"/>
<text x="634.8" y="306.5" class="tkb" text-anchor="middle">2.8</text>
<line x1="652.5" y1="290.3" x2="652.5" y2="293.3" stroke="#1a1a1a" stroke-width="1.3"/>
<line x1="670.2" y1="290.3" x2="670.2" y2="295.3" stroke="#1a1a1a" stroke-width="1.3"/>
<text x="670.2" y="306.5" class="tkb" text-anchor="middle">3.0</text>
<line x1="687.9" y1="290.3" x2="687.9" y2="293.3" stroke="#1a1a1a" stroke-width="1.3"/>
<line x1="705.5" y1="290.3" x2="705.5" y2="295.3" stroke="#1a1a1a" stroke-width="1.3"/>
<text x="705.5" y="306.5" class="tkb" text-anchor="middle">3.2</text>
<line x1="723.2" y1="290.3" x2="723.2" y2="293.3" stroke="#1a1a1a" stroke-width="1.3"/>
<line x1="740.9" y1="290.3" x2="740.9" y2="295.3" stroke="#1a1a1a" stroke-width="1.3"/>
<text x="740.9" y="306.5" class="tkb" text-anchor="middle">3.4</text>
<line x1="758.6" y1="290.3" x2="758.6" y2="293.3" stroke="#1a1a1a" stroke-width="1.3"/>
<g clip-path="url(#cb)">
<path d="M414.0,290.5 C416.0,290.4 422.0,290.1 426.0,289.9 C430.0,289.7 434.0,289.4 438.0,289.2 C442.0,288.9 446.0,288.7 450.0,288.4 C454.0,288.1 458.0,287.8 462.0,287.4 C466.0,287.0 470.0,286.6 474.0,286.2 C478.0,285.8 482.0,285.3 486.0,284.8 C490.0,284.3 494.0,283.8 498.0,283.2 C502.0,282.6 506.0,281.9 510.0,281.2 C514.0,280.5 518.0,279.8 522.0,279.0 C526.0,278.2 530.0,277.4 534.0,276.5 C538.0,275.6 542.0,274.6 546.0,273.6 C550.0,272.6 554.0,271.5 558.0,270.3 C562.0,269.1 566.0,267.9 570.0,266.6 C574.0,265.3 578.0,263.9 582.0,262.5 C586.0,261.1 590.0,259.5 594.0,257.9 C598.0,256.3 602.0,254.7 606.0,252.9 C610.0,251.1 614.0,249.3 618.0,247.3 C622.0,245.3 626.0,243.3 630.0,241.1 C634.0,238.9 638.0,236.5 642.0,234.1 C646.0,231.7 650.0,229.2 654.0,226.4 C658.0,223.6 662.0,220.7 666.0,217.5 C670.0,214.3 674.0,211.0 678.0,207.4 C682.0,203.8 686.9,199.4 690.0,195.7 C693.1,192.0 694.3,188.8 696.4,185.0 C698.5,181.2 700.8,176.5 702.5,173.0 C704.2,169.5 705.5,166.5 706.7,164.0 C707.9,161.5 708.8,159.5 709.8,158.1 C710.8,156.7 711.8,156.5 713.0,155.5 C714.2,154.5 715.5,153.6 717.0,151.9 C718.5,150.2 720.4,145.4 722.3,145.6 C724.2,145.8 726.4,150.3 728.5,152.9 C730.6,155.5 732.5,158.8 734.8,161.2 C737.0,163.6 739.8,165.4 742.0,167.5 C744.2,169.6 746.5,173.0 748.3,173.7 C750.0,174.4 750.7,171.7 752.5,171.7 C754.3,171.7 757.9,173.4 759.0,173.7" fill="none" stroke="#111111" stroke-width="4.0" stroke-linejoin="round" stroke-linecap="round"/>
<polyline points="414.0,290.5 414.4,290.5 414.9,290.5 415.3,290.4 415.7,290.4 416.2,290.4 416.6,290.4 417.0,290.4 417.5,290.3 417.9,290.3 418.4,290.3 418.8,290.3 419.3,290.2 419.7,290.2 420.1,290.2 420.6,290.2 421.0,290.2 421.5,290.1 422.0,290.1 422.4,290.1 422.9,290.1 423.3,290.0 423.8,290.0 424.2,290.0 424.7,290.0 425.2,289.9 425.6,289.9 426.1,289.9 426.6,289.9 427.0,289.8 427.5,289.8 428.0,289.8 428.5,289.8 428.9,289.7 429.4,289.7 429.9,289.7 430.4,289.7 430.9,289.6 431.4,289.6 431.8,289.6 432.3,289.5 432.8,289.5 433.3,289.5 433.8,289.5 434.3,289.4 434.8,289.4 435.3,289.4 435.8,289.3 436.3,289.3 436.8,289.3 437.3,289.2 437.8,289.2 438.3,289.2 438.8,289.1 439.3,289.1 439.8,289.1 440.4,289.1 440.9,289.0 441.4,289.0 441.9,289.0 442.4,288.9 443.0,288.9 443.5,288.9 444.0,288.8 444.5,288.8 445.1,288.7 445.6,288.7 446.1,288.7 446.7,288.6 447.2,288.6 447.8,288.6 448.3,288.5 448.8,288.5 449.4,288.4 449.9,288.4 450.5,288.4 451.0,288.3 451.6,288.3 452.2,288.2 452.7,288.2 453.3,288.1 453.8,288.1 454.4,288.1 455.0,288.0 455.5,288.0 456.1,287.9 456.7,287.9 457.3,287.8 457.8,287.8 458.4,287.7 459.0,287.7 459.6,287.6 460.2,287.6 460.7,287.5 461.3,287.5 461.9,287.4 462.5,287.4 463.1,287.3 463.7,287.2 464.3,287.2 464.9,287.1 465.5,287.1 466.1,287.0 466.7,287.0 467.3,286.9 468.0,286.8 468.6,286.8 469.2,286.7 469.8,286.6 470.4,286.6 471.1,286.5 471.7,286.4 472.3,286.4 473.0,286.3 473.6,286.2 474.2,286.2 474.9,286.1 475.5,286.0 476.2,286.0 476.8,285.9 477.5,285.8 478.1,285.7 478.8,285.7 479.4,285.6 480.1,285.5 480.7,285.4 481.4,285.4 482.1,285.3 482.7,285.2 483.4,285.1 484.1,285.0 484.8,285.0 485.4,284.9 486.1,284.8 486.8,284.7 487.5,284.6 488.2,284.5 488.9,284.4 489.6,284.3 490.3,284.3 491.0,284.2 491.7,284.1 492.4,284.0 493.1,283.9 493.8,283.8 494.5,283.7 495.3,283.6 496.0,283.5 496.7,283.4 497.4,283.3 498.2,283.2 498.9,283.1 499.7,282.9 500.4,282.8 501.1,282.7 501.9,282.6 502.6,282.5 503.4,282.3 504.1,282.2 504.9,282.1 505.7,282.0 506.4,281.8 507.2,281.7 508.0,281.6 508.7,281.4 509.5,281.3 510.3,281.1 511.1,281.0 511.9,280.9 512.7,280.7 513.5,280.6 514.3,280.4 515.1,280.3 515.9,280.2 516.7,280.0 517.5,279.9 518.3,279.7 519.1,279.6 520.0,279.4 520.8,279.2 521.6,279.1 522.4,278.9 523.3,278.7 524.1,278.6 525.0,278.4 525.8,278.2 526.7,278.1 527.5,277.9 528.4,277.7 529.3,277.5 530.1,277.3 531.0,277.2 531.9,277.0 532.7,276.8 533.6,276.6 534.5,276.4 535.4,276.2 536.3,276.0 537.2,275.8 538.1,275.6 539.0,275.3 539.9,275.1 540.8,274.9 541.8,274.7 542.7,274.4 543.6,274.2 544.5,274.0 545.5,273.7 546.4,273.5 547.4,273.2 548.3,273.0 549.3,272.7 550.2,272.5 551.2,272.2 552.2,272.0 553.1,271.7 554.1,271.4 555.1,271.1 556.1,270.9 557.1,270.6 558.1,270.3 559.1,270.0 560.1,269.7 561.1,269.4 562.1,269.1 563.1,268.8 564.2,268.5 565.2,268.1 566.2,267.8 567.3,267.5 568.3,267.1 569.4,266.8 570.4,266.5 571.5,266.1 572.5,265.8 573.6,265.4 574.7,265.0 575.8,264.7 576.9,264.3 578.0,263.9 579.1,263.6 580.2,263.2 581.3,262.8 582.4,262.4 583.5,262.0 584.6,261.5 585.8,261.1 586.9,260.7 588.0,260.2 589.2,259.8 590.3,259.3 591.5,258.9 592.7,258.4 593.8,258.0 595.0,257.5 596.2,257.0 597.4,256.5 598.6,256.0 599.8,255.5 601.0,255.0 602.2,254.5 603.5,254.0 604.7,253.5 605.9,252.9 607.2,252.4 608.4,251.8 609.7,251.2 610.9,250.7 612.2,250.1 613.5,249.5 614.8,248.9 616.1,248.2 617.4,247.6 618.7,247.0 620.0,246.3 621.3,245.7 622.6,245.0 624.0,244.3 625.3,243.6 626.6,242.9 628.0,242.2 629.4,241.4 630.7,240.7 632.1,239.9 633.5,239.1 634.9,238.3 636.3,237.5 637.7,236.7 639.1,235.8 640.6,235.0 642.0,234.1 643.4,233.2 644.9,232.3 646.3,231.4 647.8,230.5 649.3,229.5 650.8,228.6 652.3,227.6 653.8,226.6 655.3,225.5 656.8,224.4 658.3,223.3 659.9,222.2 661.4,221.0 663.0,219.9 664.5,218.6 666.1,217.4 667.7,216.1 669.3,214.8 670.9,213.5 672.5,212.2 674.1,210.8 675.8,209.4 677.4,207.9 679.1,206.4 680.7,204.9 682.4,203.4 684.1,201.8 685.8,200.2 687.5,198.5 689.2,196.6 691.0,194.5 692.7,191.9 694.4,188.7 696.2,185.4 698.0,182.1 699.8,178.6 701.6,174.9 703.4,171.2 705.2,167.3 707.0,163.4 708.8,159.6 710.7,157.1 712.6,155.8 714.4,154.3 716.3,152.6 718.2,150.2 720.2,147.1 722.1,145.6 724.0,146.7 726.0,149.3 727.9,152.2 729.9,154.8 731.9,157.6 733.9,160.2 735.9,162.4 738.0,164.1 740.0,165.8 742.1,167.6 744.2,169.8 746.3,172.1 748.4,173.7 750.5,172.9 752.6,171.7 754.8,172.2 756.9,172.9" fill="none" stroke="none" marker-start="url(#mBk)" marker-mid="url(#mBk)" marker-end="url(#mBk)"/>
<path d="M414.0,288.3 C416.0,288.1 422.0,287.7 426.0,287.3 C430.0,286.9 434.0,286.6 438.0,286.2 C442.0,285.8 446.0,285.3 450.0,284.9 C454.0,284.4 458.0,284.0 462.0,283.5 C466.0,283.0 470.0,282.6 474.0,282.1 C478.0,281.6 482.0,281.1 486.0,280.5 C490.0,279.9 494.0,279.4 498.0,278.8 C502.0,278.2 506.0,277.7 510.0,277.1 C514.0,276.5 518.0,275.9 522.0,275.3 C526.0,274.7 530.0,274.0 534.0,273.4 C538.0,272.8 542.0,272.1 546.0,271.4 C550.0,270.7 554.0,270.1 558.0,269.4 C562.0,268.7 566.0,268.0 570.0,267.3 C574.0,266.6 578.0,265.9 582.0,265.1 C586.0,264.4 590.0,263.6 594.0,262.8 C598.0,262.0 602.0,261.2 606.0,260.4 C610.0,259.6 614.0,258.7 618.0,257.8 C622.0,256.9 626.0,256.1 630.0,255.1 C634.0,254.1 638.0,253.1 642.0,252.1 C646.0,251.1 650.0,250.0 654.0,248.8 C658.0,247.7 662.0,246.5 666.0,245.2 C670.0,243.9 674.0,242.5 678.0,241.0 C682.0,239.5 686.3,237.8 690.0,236.3 C693.7,234.8 696.6,233.6 700.0,232.2 C703.4,230.8 707.7,228.7 710.4,227.7 C713.1,226.7 713.9,226.4 716.0,226.0 C718.1,225.6 720.6,224.9 722.9,225.0 C725.2,225.1 727.6,225.9 730.0,226.5 C732.4,227.1 734.7,228.0 737.0,228.6 C739.3,229.2 741.6,229.7 744.0,230.0 C746.4,230.3 748.9,230.5 751.4,230.7 C753.9,230.9 757.7,231.1 759.0,231.2" fill="none" stroke="#f5141e" stroke-width="4.0" stroke-linejoin="round" stroke-linecap="round"/>
<polyline points="414.0,288.3 414.4,288.3 414.9,288.2 415.3,288.2 415.7,288.2 416.2,288.1 416.6,288.1 417.0,288.1 417.5,288.0 417.9,288.0 418.4,287.9 418.8,287.9 419.3,287.9 419.7,287.8 420.1,287.8 420.6,287.8 421.0,287.7 421.5,287.7 422.0,287.6 422.4,287.6 422.9,287.6 423.3,287.5 423.8,287.5 424.2,287.5 424.7,287.4 425.2,287.4 425.6,287.3 426.1,287.3 426.6,287.2 427.0,287.2 427.5,287.2 428.0,287.1 428.5,287.1 428.9,287.0 429.4,287.0 429.9,287.0 430.4,286.9 430.9,286.9 431.4,286.8 431.8,286.8 432.3,286.7 432.8,286.7 433.3,286.6 433.8,286.6 434.3,286.6 434.8,286.5 435.3,286.5 435.8,286.4 436.3,286.4 436.8,286.3 437.3,286.3 437.8,286.2 438.3,286.2 438.8,286.1 439.3,286.1 439.8,286.0 440.4,286.0 440.9,285.9 441.4,285.8 441.9,285.8 442.4,285.7 443.0,285.7 443.5,285.6 444.0,285.6 444.5,285.5 445.1,285.5 445.6,285.4 446.1,285.3 446.7,285.3 447.2,285.2 447.8,285.2 448.3,285.1 448.8,285.0 449.4,285.0 449.9,284.9 450.5,284.8 451.0,284.8 451.6,284.7 452.2,284.7 452.7,284.6 453.3,284.5 453.8,284.5 454.4,284.4 455.0,284.3 455.5,284.3 456.1,284.2 456.7,284.1 457.3,284.1 457.8,284.0 458.4,283.9 459.0,283.9 459.6,283.8 460.2,283.7 460.7,283.6 461.3,283.6 461.9,283.5 462.5,283.4 463.1,283.4 463.7,283.3 464.3,283.2 464.9,283.2 465.5,283.1 466.1,283.0 466.7,283.0 467.3,282.9 468.0,282.8 468.6,282.7 469.2,282.7 469.8,282.6 470.4,282.5 471.1,282.5 471.7,282.4 472.3,282.3 473.0,282.2 473.6,282.2 474.2,282.1 474.9,282.0 475.5,281.9 476.2,281.8 476.8,281.7 477.5,281.7 478.1,281.6 478.8,281.5 479.4,281.4 480.1,281.3 480.7,281.2 481.4,281.1 482.1,281.0 482.7,280.9 483.4,280.9 484.1,280.8 484.8,280.7 485.4,280.6 486.1,280.5 486.8,280.4 487.5,280.3 488.2,280.2 488.9,280.1 489.6,280.0 490.3,279.9 491.0,279.8 491.7,279.7 492.4,279.6 493.1,279.5 493.8,279.4 494.5,279.3 495.3,279.2 496.0,279.1 496.7,279.0 497.4,278.9 498.2,278.8 498.9,278.7 499.7,278.6 500.4,278.5 501.1,278.4 501.9,278.3 502.6,278.1 503.4,278.0 504.1,277.9 504.9,277.8 505.7,277.7 506.4,277.6 507.2,277.5 508.0,277.4 508.7,277.3 509.5,277.2 510.3,277.1 511.1,276.9 511.9,276.8 512.7,276.7 513.5,276.6 514.3,276.5 515.1,276.4 515.9,276.2 516.7,276.1 517.5,276.0 518.3,275.9 519.1,275.7 520.0,275.6 520.8,275.5 521.6,275.4 522.4,275.2 523.3,275.1 524.1,275.0 525.0,274.8 525.8,274.7 526.7,274.6 527.5,274.4 528.4,274.3 529.3,274.2 530.1,274.0 531.0,273.9 531.9,273.7 532.7,273.6 533.6,273.5 534.5,273.3 535.4,273.2 536.3,273.0 537.2,272.9 538.1,272.7 539.0,272.6 539.9,272.4 540.8,272.3 541.8,272.1 542.7,272.0 543.6,271.8 544.5,271.6 545.5,271.5 546.4,271.3 547.4,271.2 548.3,271.0 549.3,270.9 550.2,270.7 551.2,270.5 552.2,270.4 553.1,270.2 554.1,270.1 555.1,269.9 556.1,269.7 557.1,269.6 558.1,269.4 559.1,269.2 560.1,269.0 561.1,268.9 562.1,268.7 563.1,268.5 564.2,268.3 565.2,268.2 566.2,268.0 567.3,267.8 568.3,267.6 569.4,267.4 570.4,267.2 571.5,267.0 572.5,266.8 573.6,266.6 574.7,266.5 575.8,266.3 576.9,266.1 578.0,265.9 579.1,265.6 580.2,265.4 581.3,265.2 582.4,265.0 583.5,264.8 584.6,264.6 585.8,264.4 586.9,264.2 588.0,264.0 589.2,263.7 590.3,263.5 591.5,263.3 592.7,263.1 593.8,262.8 595.0,262.6 596.2,262.4 597.4,262.1 598.6,261.9 599.8,261.7 601.0,261.4 602.2,261.2 603.5,260.9 604.7,260.7 605.9,260.4 607.2,260.2 608.4,259.9 609.7,259.6 610.9,259.3 612.2,259.1 613.5,258.8 614.8,258.5 616.1,258.2 617.4,257.9 618.7,257.7 620.0,257.4 621.3,257.1 622.6,256.8 624.0,256.5 625.3,256.2 626.6,255.9 628.0,255.6 629.4,255.2 630.7,254.9 632.1,254.6 633.5,254.3 634.9,253.9 636.3,253.6 637.7,253.2 639.1,252.8 640.6,252.5 642.0,252.1 643.4,251.7 644.9,251.3 646.3,250.9 647.8,250.5 649.3,250.1 650.8,249.7 652.3,249.3 653.8,248.9 655.3,248.4 656.8,248.0 658.3,247.5 659.9,247.1 661.4,246.6 663.0,246.2 664.5,245.7 666.1,245.2 667.7,244.6 669.3,244.1 670.9,243.5 672.5,243.0 674.1,242.4 675.8,241.8 677.4,241.2 679.1,240.6 680.7,240.0 682.4,239.3 684.1,238.7 685.8,238.0 687.5,237.3 689.2,236.6 691.0,235.9 692.7,235.2 694.4,234.5 696.2,233.8 698.0,233.0 699.8,232.3 701.6,231.5 703.4,230.7 705.2,229.9 707.0,229.1 708.8,228.3 710.7,227.6 712.6,226.9 714.4,226.4 716.3,225.9 718.2,225.5 720.2,225.2 722.1,225.0 724.0,225.1 726.0,225.4 727.9,225.9 729.9,226.5 731.9,227.0 733.9,227.7 735.9,228.3 738.0,228.8 740.0,229.3 742.1,229.7 744.2,230.0 746.3,230.3 748.4,230.5 750.5,230.6 752.6,230.8 754.8,230.9 756.9,231.1" fill="none" stroke="none" marker-start="url(#mBr)" marker-mid="url(#mBr)" marker-end="url(#mBr)"/>
<path d="M414.0,285.0 C416.0,284.8 422.0,284.0 426.0,283.5 C430.0,283.0 434.0,282.5 438.0,281.9 C442.0,281.3 446.0,280.6 450.0,280.0 C454.0,279.4 458.0,278.7 462.0,278.0 C466.0,277.3 470.0,276.6 474.0,275.8 C478.0,275.0 482.0,274.2 486.0,273.3 C490.0,272.4 494.0,271.5 498.0,270.6 C502.0,269.7 506.0,268.7 510.0,267.7 C514.0,266.7 518.0,265.6 522.0,264.5 C526.0,263.4 530.0,262.2 534.0,261.0 C538.0,259.8 542.0,258.5 546.0,257.1 C550.0,255.8 554.0,254.4 558.0,252.9 C562.0,251.4 566.0,249.8 570.0,248.2 C574.0,246.5 578.0,244.8 582.0,243.0 C586.0,241.2 590.0,239.2 594.0,237.1 C598.0,235.0 602.0,232.8 606.0,230.5 C610.0,228.2 614.0,225.8 618.0,223.1 C622.0,220.4 626.0,217.6 630.0,214.5 C634.0,211.4 638.0,208.2 642.0,204.7 C646.0,201.1 650.0,197.3 654.0,193.2 C658.0,189.0 663.0,183.3 666.0,179.8 C669.0,176.3 669.6,175.3 672.0,172.3 C674.4,169.3 677.9,165.1 680.2,162.0 C682.5,158.9 683.9,156.5 685.6,153.5 C687.3,150.5 688.6,147.8 690.4,144.0 C692.2,140.2 694.6,135.0 696.4,131.0 C698.2,127.0 699.6,124.8 701.2,120.0 C702.8,115.2 704.5,107.5 706.0,102.5 C707.5,97.5 709.0,94.2 710.2,90.0 C711.5,85.8 712.5,81.5 713.5,77.0 C714.5,72.5 715.6,67.3 716.5,63.0 C717.4,58.7 718.0,54.2 718.7,51.0 C719.4,47.8 719.8,46.0 720.5,43.5 C721.2,41.0 722.1,38.6 722.9,36.3 C723.7,34.0 724.4,30.5 725.2,29.5 C726.1,28.5 726.8,29.6 728.0,30.5 C729.2,31.4 730.9,33.8 732.4,35.0 C733.9,36.2 735.7,36.8 737.1,38.0 C738.5,39.2 739.4,40.5 740.7,42.5 C742.0,44.5 743.6,47.7 745.0,50.0 C746.4,52.3 747.7,54.7 749.0,56.5 C750.3,58.3 751.8,59.8 753.0,61.0 C754.2,62.2 755.0,62.7 756.0,63.5 C757.0,64.3 758.5,65.6 759.0,66.0" fill="none" stroke="#1414f5" stroke-width="4.0" stroke-linejoin="round" stroke-linecap="round"/>
<polyline points="414.0,285.0 414.4,284.9 414.9,284.9 415.3,284.8 415.7,284.8 416.2,284.7 416.6,284.7 417.0,284.6 417.5,284.6 417.9,284.5 418.4,284.5 418.8,284.4 419.3,284.3 419.7,284.3 420.1,284.2 420.6,284.2 421.0,284.1 421.5,284.1 422.0,284.0 422.4,284.0 422.9,283.9 423.3,283.8 423.8,283.8 424.2,283.7 424.7,283.7 425.2,283.6 425.6,283.5 426.1,283.5 426.6,283.4 427.0,283.4 427.5,283.3 428.0,283.2 428.5,283.2 428.9,283.1 429.4,283.1 429.9,283.0 430.4,282.9 430.9,282.9 431.4,282.8 431.8,282.7 432.3,282.7 432.8,282.6 433.3,282.6 433.8,282.5 434.3,282.4 434.8,282.4 435.3,282.3 435.8,282.2 436.3,282.1 436.8,282.1 437.3,282.0 437.8,281.9 438.3,281.9 438.8,281.8 439.3,281.7 439.8,281.6 440.4,281.5 440.9,281.5 441.4,281.4 441.9,281.3 442.4,281.2 443.0,281.1 443.5,281.1 444.0,281.0 444.5,280.9 445.1,280.8 445.6,280.7 446.1,280.6 446.7,280.5 447.2,280.5 447.8,280.4 448.3,280.3 448.8,280.2 449.4,280.1 449.9,280.0 450.5,279.9 451.0,279.8 451.6,279.7 452.2,279.6 452.7,279.6 453.3,279.5 453.8,279.4 454.4,279.3 455.0,279.2 455.5,279.1 456.1,279.0 456.7,278.9 457.3,278.8 457.8,278.7 458.4,278.6 459.0,278.5 459.6,278.4 460.2,278.3 460.7,278.2 461.3,278.1 461.9,278.0 462.5,277.9 463.1,277.8 463.7,277.7 464.3,277.6 464.9,277.5 465.5,277.4 466.1,277.3 466.7,277.2 467.3,277.1 468.0,276.9 468.6,276.8 469.2,276.7 469.8,276.6 470.4,276.5 471.1,276.4 471.7,276.2 472.3,276.1 473.0,276.0 473.6,275.9 474.2,275.8 474.9,275.6 475.5,275.5 476.2,275.4 476.8,275.2 477.5,275.1 478.1,275.0 478.8,274.8 479.4,274.7 480.1,274.6 480.7,274.4 481.4,274.3 482.1,274.1 482.7,274.0 483.4,273.9 484.1,273.7 484.8,273.6 485.4,273.4 486.1,273.3 486.8,273.1 487.5,273.0 488.2,272.8 488.9,272.7 489.6,272.5 490.3,272.4 491.0,272.2 491.7,272.0 492.4,271.9 493.1,271.7 493.8,271.6 494.5,271.4 495.3,271.2 496.0,271.1 496.7,270.9 497.4,270.7 498.2,270.6 498.9,270.4 499.7,270.2 500.4,270.0 501.1,269.9 501.9,269.7 502.6,269.5 503.4,269.3 504.1,269.1 504.9,269.0 505.7,268.8 506.4,268.6 507.2,268.4 508.0,268.2 508.7,268.0 509.5,267.8 510.3,267.6 511.1,267.4 511.9,267.2 512.7,267.0 513.5,266.8 514.3,266.6 515.1,266.4 515.9,266.2 516.7,266.0 517.5,265.7 518.3,265.5 519.1,265.3 520.0,265.1 520.8,264.8 521.6,264.6 522.4,264.4 523.3,264.1 524.1,263.9 525.0,263.7 525.8,263.4 526.7,263.2 527.5,262.9 528.4,262.7 529.3,262.4 530.1,262.2 531.0,261.9 531.9,261.6 532.7,261.4 533.6,261.1 534.5,260.8 535.4,260.6 536.3,260.3 537.2,260.0 538.1,259.7 539.0,259.4 539.9,259.1 540.8,258.8 541.8,258.5 542.7,258.2 543.6,257.9 544.5,257.6 545.5,257.3 546.4,257.0 547.4,256.6 548.3,256.3 549.3,256.0 550.2,255.7 551.2,255.3 552.2,255.0 553.1,254.7 554.1,254.3 555.1,254.0 556.1,253.6 557.1,253.2 558.1,252.9 559.1,252.5 560.1,252.1 561.1,251.7 562.1,251.3 563.1,251.0 564.2,250.6 565.2,250.1 566.2,249.7 567.3,249.3 568.3,248.9 569.4,248.5 570.4,248.0 571.5,247.6 572.5,247.1 573.6,246.7 574.7,246.2 575.8,245.8 576.9,245.3 578.0,244.8 579.1,244.3 580.2,243.8 581.3,243.3 582.4,242.8 583.5,242.3 584.6,241.8 585.8,241.2 586.9,240.7 588.0,240.1 589.2,239.5 590.3,239.0 591.5,238.4 592.7,237.8 593.8,237.2 595.0,236.6 596.2,235.9 597.4,235.3 598.6,234.7 599.8,234.0 601.0,233.3 602.2,232.7 603.5,232.0 604.7,231.3 605.9,230.5 607.2,229.8 608.4,229.1 609.7,228.3 610.9,227.6 612.2,226.8 613.5,226.0 614.8,225.2 616.1,224.4 617.4,223.5 618.7,222.7 620.0,221.8 621.3,220.9 622.6,219.9 624.0,219.0 625.3,218.0 626.6,217.0 628.0,216.0 629.4,215.0 630.7,213.9 632.1,212.9 633.5,211.8 634.9,210.7 636.3,209.5 637.7,208.4 639.1,207.2 640.6,206.0 642.0,204.7 643.4,203.4 644.9,202.1 646.3,200.7 647.8,199.3 649.3,197.9 650.8,196.5 652.3,195.0 653.8,193.4 655.3,191.8 656.8,190.2 658.3,188.5 659.9,186.8 661.4,185.1 663.0,183.3 664.5,181.5 666.1,179.7 667.7,177.8 669.3,175.8 670.9,173.7 672.5,171.6 674.1,169.7 675.8,167.6 677.4,165.6 679.1,163.5 680.7,161.2 682.4,158.8 684.1,156.1 685.8,153.1 687.5,149.9 689.2,146.4 691.0,142.8 692.7,139.1 694.4,135.3 696.2,131.4 698.0,127.7 699.8,123.8 701.6,118.9 703.4,112.4 705.2,105.4 707.0,99.4 708.8,94.1 710.7,88.3 712.6,81.0 714.4,72.8 716.3,63.8 718.2,53.4 720.2,44.8 722.1,38.7 724.0,32.4 726.0,29.1 727.9,30.5 729.9,32.4 731.9,34.6 733.9,36.0 735.9,37.1 738.0,38.9 740.0,41.5 742.1,44.8 744.2,48.5 746.3,52.1 748.4,55.6 750.5,58.3 752.6,60.6 754.8,62.5 756.9,64.3" fill="none" stroke="none" marker-start="url(#mBb)" marker-mid="url(#mBb)" marker-end="url(#mBb)"/>
</g>
<path d="M413.4,290.3 V25.9 H758.7 V290.3" fill="none" stroke="#3a3a3a" stroke-width="1.25"/>
<line x1="412.8" y1="290.3" x2="759.3" y2="290.3" stroke="#111" stroke-width="1.5"/>
<!-- tangent lines -->
<line x1="619.2" y1="290" x2="700" y2="180" stroke="#111111" stroke-width="1"/>
<line x1="624.6" y1="290" x2="705" y2="234.7" stroke="#f5141e" stroke-width="1"/>
<line x1="662.8" y1="290" x2="722.5" y2="40" stroke="#1414f5" stroke-width="1"/>
<path d="M619.20,289.60 L624.75,285.61 L621.37,283.12 Z" fill="#111111"/>
<path d="M624.60,289.60 L631.15,287.67 L628.78,284.20 Z" fill="#f5141e"/>
<path d="M662.40,289.60 L665.96,283.77 L661.88,282.79 Z" fill="#1414f5"/>
<text x="713.4" y="113.8" font-size="11.9" fill="#1414f5" stroke="#1414f5" stroke-width="0.25" textLength="37" lengthAdjust="spacingAndGlyphs">2.98 eV</text>
<text x="703.5" y="202.1" font-size="12.2" fill="#111" stroke="#111" stroke-width="0.25" textLength="40.6" lengthAdjust="spacingAndGlyphs">2.71 eV</text>
<text x="701.8" y="254.8" font-size="12.3" fill="#f5141e" stroke="#f5141e" stroke-width="0.25" textLength="40.9" lengthAdjust="spacingAndGlyphs">2.74 eV</text>
<!-- legend B -->
<rect x="422.1" y="39.3" width="87.2" height="48.9" fill="#fff" stroke="#555" stroke-width="1"/>
<line x1="423" y1="47.9" x2="449.8" y2="47.9" stroke="#111111" stroke-width="2.6"/>
<circle cx="436.8" cy="47.9" r="2.1" fill="#444" stroke="#111111" stroke-width="1.4"/>
<line x1="423" y1="63.9" x2="449.8" y2="63.9" stroke="#f5141e" stroke-width="2.6"/>
<circle cx="436.8" cy="63.9" r="2.1" fill="#f55" stroke="#f5141e" stroke-width="1.4"/>
<line x1="423" y1="79.6" x2="449.8" y2="79.6" stroke="#1414f5" stroke-width="2.6"/>
<circle cx="436.8" cy="79.6" r="2.1" fill="#55f" stroke="#1414f5" stroke-width="1.4"/>
<text x="452.9" y="52.3" font-size="11.7" font-weight="bold" fill="#111" stroke="#111" stroke-width="0.4">ZnO</text>
<text x="452.9" y="68.3" font-size="11.7" font-weight="bold" fill="#111" stroke="#111" stroke-width="0.4">3% doped</text>
<text x="452.9" y="84" font-size="11.7" font-weight="bold" fill="#111" stroke="#111" stroke-width="0.4">6% doped</text>
<!-- x label B -->
<text x="555.8" y="323.7" font-size="13.5" font-weight="bold" font-style="italic" fill="#111" stroke="#111" stroke-width="0.4">h</text>
<text x="563.2" y="323.7" font-size="14.5" fill="#111">&#965;</text>
<text x="579.6" y="324.2" font-size="13" font-weight="bold" fill="#111" stroke="#111" stroke-width="0.4">(eV)</text>
<!-- y label B (rotated) -->
<g transform="translate(403.6,0) rotate(-90)">
<text x="-190" y="0" font-size="13.5" fill="#111" stroke="#111" stroke-width="0.3" textLength="39.5" lengthAdjust="spacingAndGlyphs">(&#945;h&#965;)</text>
<text x="-149.8" y="-6.5" font-size="8.8" font-weight="bold" fill="#111" stroke="#111" stroke-width="0.4">2</text>
<text x="-142" y="1" font-size="12.5" font-weight="bold" fill="#111" textLength="44" lengthAdjust="spacingAndGlyphs" stroke="#111" stroke-width="0.4">(eV/cm)</text>
<text x="-98" y="-6.5" font-size="8.8" font-weight="bold" fill="#111" stroke="#111" stroke-width="0.4">2</text>
</g>
</svg>
</body></html>
